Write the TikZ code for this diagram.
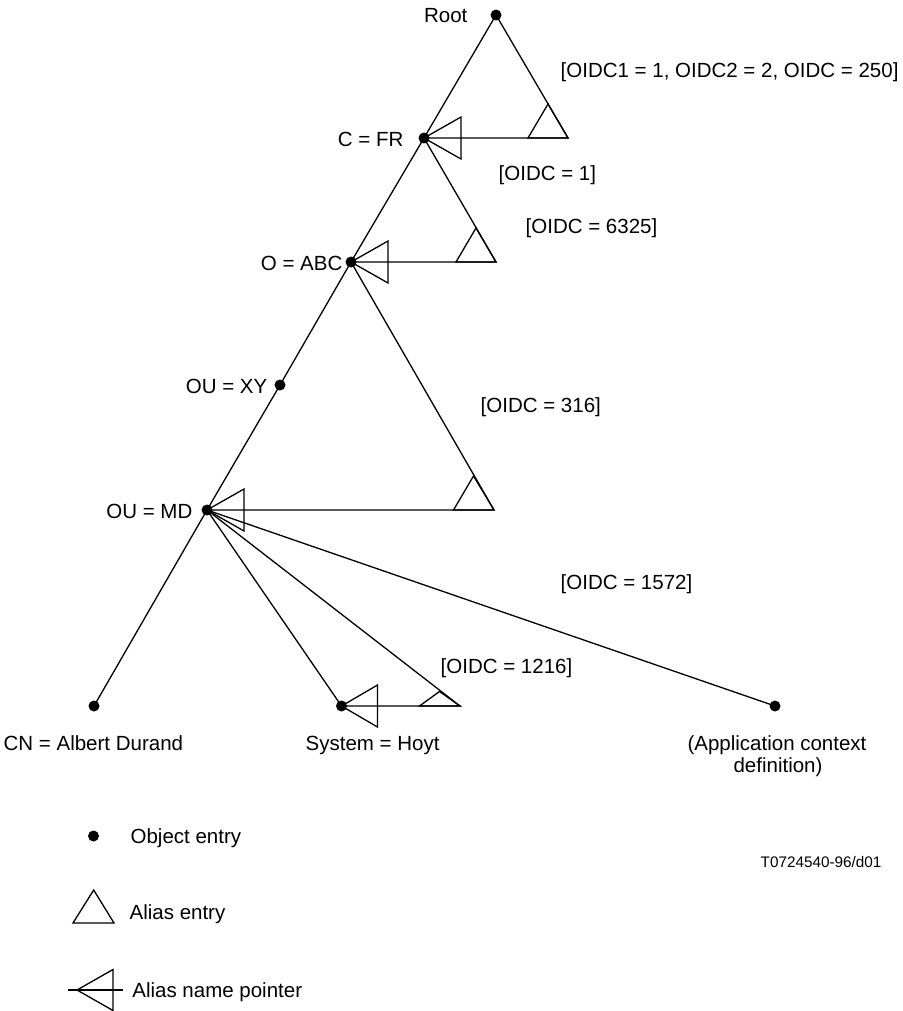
\documentclass[tikz,border=0pt]{standalone}
\usepackage{fontspec}
\setmainfont{Liberation Sans}
\begin{document}
\begin{tikzpicture}[x=1pt,y=-1pt,line width=1.3pt,
  dot/.style={circle,fill=black,inner sep=0pt,minimum size=11pt},
  lbl/.style={anchor=base west,inner sep=0pt,font=\fontsize{20.5}{24}\selectfont},
  lblr/.style={anchor=base east,inner sep=0pt,font=\fontsize{20.5}{24}\selectfont},
  lblc/.style={anchor=base,inner sep=0pt,font=\fontsize{20.5}{24}\selectfont},
  lbls/.style={anchor=base west,inner sep=0pt,font=\fontsize{15.3}{18}\selectfont}]
\useasboundingbox (0,0) rectangle (902,1011);
% object entries
\node[dot] (root) at (496,15) {};
\node[dot] (cfr) at (424,138) {};
\node[dot] (oabc) at (351,262) {};
\node[dot] (ouxy) at (280,385) {};
\node[dot] (oumd) at (207,510) {};
\node[dot] (cn) at (94,706) {};
\node[dot] (hoyt) at (341.5,706) {};
\node[dot] (app) at (775,706) {};
% triangle corners
\coordinate (t1) at (568,138);
\coordinate (t2) at (496,262);
\coordinate (t3) at (494,510);
\coordinate (t4) at (460,706);
% tree lines
\draw (root.center) -- (cfr.center) -- (oabc.center) -- (ouxy.center) -- (oumd.center) -- (cn.center);
\draw (oumd.center) -- (hoyt.center);
\draw (oumd.center) -- (app.center);
% alias triangles
\draw (root.center) -- (t1) -- (cfr.center);
\draw (cfr.center) -- (t2) -- (oabc.center);
\draw (oabc.center) -- (t3) -- (oumd.center);
\draw (oumd.center) -- (t4) -- (hoyt.center);
% alias entries (small triangles)
\coordinate (a1b) at (528,138); \coordinate (a1a) at (548,104);
\coordinate (a2b) at (456,262); \coordinate (a2a) at (476,228);
\coordinate (a3b) at (453.5,510); \coordinate (a3a) at (473.5,476);
\coordinate (a4b) at (419.5,706); \coordinate (a4a) at (439.5,691.5);
\draw (a1b) -- (a1a) -- (t1) -- cycle;
\draw (a2b) -- (a2a) -- (t2) -- cycle;
\draw (a3b) -- (a3a) -- (t3) -- cycle;
\draw (a4b) -- (a4a) -- (t4) -- cycle;
% alias name pointers
\draw[line join=miter] (cfr.center) -- ++(37,-21) -- ++(0,42) -- cycle;
\draw[line join=miter] (oabc.center) -- ++(37,-21) -- ++(0,42) -- cycle;
\draw[line join=miter] (oumd.center) -- ++(37,-21) -- ++(0,42) -- cycle;
\draw[line join=miter] (hoyt.center) -- ++(36,-21) -- ++(0,42) -- cycle;
% labels
\node[lblr] (lroot) at (468,22.4) {Root};
\node[lblr] (lcfr) at (404,146.4) {C = FR};
\node[lblr] (loabc) at (343,270) {O = ABC};
\node[lblr] (louxy) at (268,393) {OU = XY};
\node[lblr] (loumd) at (193,518) {OU = MD};
\node[lbl] (l250) at (560,77.4) {[OIDC1 = 1, OIDC2 = 2, OIDC = 250]};
\node[lbl] (l1) at (498,180.4) {[OIDC = 1]};
\node[lbl] (l6325) at (525,233.4) {[OIDC = 6325]};
\node[lbl] (l316) at (480,412.4) {[OIDC = 316]};
\node[lbl] (l1572) at (560,589) {[OIDC = 1572]};
\node[lbl] (l1216) at (440,673.4) {[OIDC = 1216]};
\node[lbl] (lcn) at (3,750.7) {CN = Albert Durand};
\node[lbl] (lhoyt) at (305,750.4) {System = Hoyt};
\node[lblc] (lapp1) at (777,750.4) {(Application context};
\node[lblc] (lapp2) at (778,772.4) {definition)};
% legend
\node[dot] (legdot) at (93.5,836) {};
\node[lbl] (legobj) at (130,843.4) {Object entry};
\node[lbls] (tref) at (760,867.5) {T0724540-96/d01};
\coordinate (lt1) at (73,923); \coordinate (lt2) at (114,923); \coordinate (lt3) at (93.7,890);
\draw[line join=miter] (lt1) -- (lt2) -- (lt3) -- cycle;
\node[lbl] (legalias) at (129,919.1) {Alias entry};
\coordinate (lp0) at (68,990); \coordinate (lp1) at (123,990); \coordinate (lptip) at (77,990);
\draw (lp0) -- (lp1);
\draw[line join=miter] (lptip) -- ++(36,-20.5) -- ++(0,41) -- cycle;
\node[lbl] (legptr) at (131.7,997.4) {Alias name pointer};
\end{tikzpicture}
\end{document}
